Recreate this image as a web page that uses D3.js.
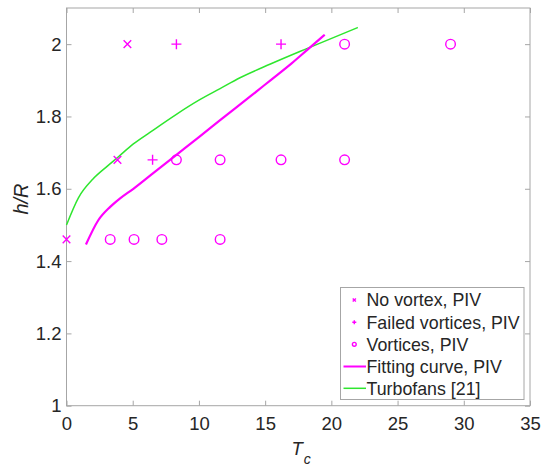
<!DOCTYPE html>
<html><head><meta charset="utf-8">
<script src="https://cdn.jsdelivr.net/npm/d3@7"></script>
<style>body{margin:0;background:#fff}svg{display:block}text{font-family:"Liberation Sans",Arial,sans-serif}</style>
</head><body>
<svg id="c" width="542" height="467"></svg>
<script>
const xTicks = [0,5,10,15,20,25,30,35];
const yTicks = [1,1.2,1.4,1.6,1.8,2];
const noVortexX = [0, 4.6, 3.85];
const noVortexY = [1.46, 2.0, 1.68];
const failedX = [8.3, 6.5, 16.2];
const failedY = [2.0, 1.68, 2.0];
const vortexX = [3.3, 5.1, 7.2, 11.6, 8.3, 11.6, 16.2, 21.0, 21.0, 29.0];
const vortexY = [1.46, 1.46, 1.46, 1.46, 1.68, 1.68, 1.68, 1.68, 2.0, 2.0];
const fitX = [1.47, 2.4, 3.3, 4.0, 5.05, 6.5, 8.3, 10.0, 11.6, 13.9, 15.4, 17.0, 18.2, 19.5];
const fitY = [1.446, 1.513, 1.55, 1.572, 1.600, 1.642, 1.694, 1.743, 1.79, 1.856, 1.90, 1.947, 1.985, 2.026];
const turboX = [0, 0.9, 2.0, 3.0, 3.9, 5.05, 6.3, 8.3, 10.0, 11.6, 13.1, 15.4, 18.1, 22.0];
const turboY = [1.5, 1.575, 1.627, 1.66, 1.688, 1.724, 1.756, 1.806, 1.845, 1.877, 1.907, 1.945, 1.987, 2.046];
const legendLabels = ["No vortex, PIV","Failed vortices, PIV","Vortices, PIV","Fitting curve, PIV","Turbofans [21]"];

const MAG = "#ff00ff", GRN = "#2ee62e", AX = "#a6a6a6", TXT = "#262626";
const svg = d3.select("#c");
const L = 66.5, R = 530, T = 8, B = 405.7;
const x = d3.scaleLinear().domain([0,35]).range([L,R]);
const y = d3.scaleLinear().domain([1,2.1]).range([B,T]);

svg.append("rect").attr("x",L).attr("y",T).attr("width",R-L).attr("height",B-T)
  .attr("fill","none").attr("stroke",AX).attr("stroke-width",1);

const tfs = 18.5, lfs = 17.8;
function styleAxis(g, showLabels){
  g.select(".domain").remove();
  g.selectAll(".tick line").attr("stroke",AX);
  g.selectAll(".tick text").attr("fill",TXT).style("font-size",tfs+"px");
  if(!showLabels) g.selectAll(".tick text").remove();
}
svg.append("g").attr("transform",`translate(0,${B})`)
  .call(d3.axisBottom(x).tickValues(xTicks).tickSize(-5).tickPadding(11).tickFormat(d3.format("d")))
  .call(g=>styleAxis(g,true));
svg.append("g").attr("transform",`translate(0,${T})`)
  .call(d3.axisTop(x).tickValues(xTicks).tickSize(-5))
  .call(g=>styleAxis(g,false));
svg.append("g").attr("transform",`translate(${L},0)`)
  .call(d3.axisLeft(y).tickValues(yTicks).tickSize(-5).tickPadding(5).tickFormat(d=>d3.format("")(d)))
  .call(g=>styleAxis(g,true));
svg.append("g").attr("transform",`translate(${R},0)`)
  .call(d3.axisRight(y).tickValues(yTicks).tickSize(-5))
  .call(g=>styleAxis(g,false));

const xl = svg.append("text").attr("x",291.5).attr("y",455).attr("fill",TXT)
  .style("font-size","18.5px").style("font-style","italic");
xl.append("tspan").text("T");
xl.append("tspan").attr("dy",9).attr("dx",1).style("font-size","14px").text("c");
svg.append("text").attr("transform","translate(28,199) rotate(-90)").attr("text-anchor","middle")
  .attr("fill",TXT).style("font-size","20px").style("font-style","italic").text("h/R");

const line = d3.line().x(d=>x(d[0])).y(d=>y(d[1])).curve(d3.curveMonotoneX);
svg.append("path").datum(turboX.map((v,i)=>[v,turboY[i]])).attr("d",line)
  .attr("fill","none").attr("stroke",GRN).attr("stroke-width",1.5);
svg.append("path").datum(fitX.map((v,i)=>[v,fitY[i]])).attr("d",line)
  .attr("fill","none").attr("stroke",MAG).attr("stroke-width",2.2);

function drawX(g,cx,cy,s){ g.append("path").attr("d",`M${cx-s},${cy-s}L${cx+s},${cy+s}M${cx-s},${cy+s}L${cx+s},${cy-s}`)
  .attr("stroke",MAG).attr("stroke-width",1.4).attr("fill","none"); }
function drawPlus(g,cx,cy,s){ g.append("path").attr("d",`M${cx-s},${cy}L${cx+s},${cy}M${cx},${cy-s}L${cx},${cy+s}`)
  .attr("stroke",MAG).attr("stroke-width",1.4).attr("fill","none"); }
function drawO(g,cx,cy,r){ g.append("circle").attr("cx",cx).attr("cy",cy).attr("r",r)
  .attr("stroke",MAG).attr("stroke-width",1.4).attr("fill","none"); }
const mk = svg.append("g");
noVortexX.forEach((v,i)=>drawX(mk,x(v),y(noVortexY[i]),3.8));
failedX.forEach((v,i)=>drawPlus(mk,x(v),y(failedY[i]),5));
vortexX.forEach((v,i)=>drawO(mk,x(v),y(vortexY[i]),4.8));

const lg = svg.append("g");
lg.append("rect").attr("x",340.5).attr("y",287.5).attr("width",183.5).attr("height",112)
  .attr("fill","#fff").attr("stroke",AX).attr("stroke-width",1);
const rowY = [300,322.3,344.3,366.5,388.3];
legendLabels.forEach((t,i)=>{
  const cy = rowY[i];
  lg.append("text").attr("x",366.5).attr("y",cy).attr("dy","0.35em").attr("fill",TXT)
    .style("font-size",lfs+"px").text(t);
  if(i===0) drawX(lg,354.3,cy,1.6);
  if(i===1) drawPlus(lg,354.3,cy,2);
  if(i===2) drawO(lg,354.3,cy,1.9);
  if(i===3) lg.append("line").attr("x1",343.5).attr("x2",366).attr("y1",cy).attr("y2",cy).attr("stroke",MAG).attr("stroke-width",2);
  if(i===4) lg.append("line").attr("x1",343.5).attr("x2",366).attr("y1",cy).attr("y2",cy).attr("stroke",GRN).attr("stroke-width",1.5);
});
</script>
</body></html>
